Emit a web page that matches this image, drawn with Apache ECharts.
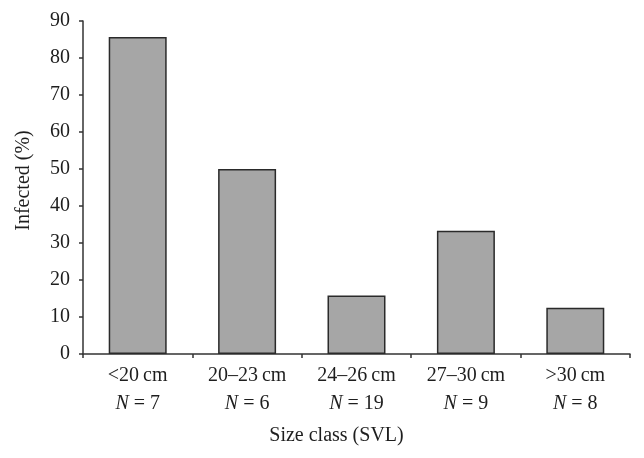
<!DOCTYPE html>
<html><head><meta charset="utf-8">
<script src="https://cdn.jsdelivr.net/npm/echarts@6/dist/echarts.min.js"></script>
<style>html,body{margin:0;padding:0;background:#fff}#c{width:644px;height:458px}</style>
</head><body><div id="c"></div>
<script>
const categories = ['<20\u2009cm', '20\u201323\u2009cm', '24\u201326\u2009cm', '27\u201330\u2009cm', '>30\u2009cm'];
const sampleSizes = [7, 6, 19, 9, 8];
const infected = [85.7, 50, 15.8, 33.3, 12.5];
const yTicks = { min: 0, max: 90, interval: 10 };

const FONT = '"Liberation Serif", "DejaVu Serif", serif';
const TXT = '#1e1e1e';
const chart = echarts.init(document.getElementById('c'));
chart.setOption({
  animation: false,
  backgroundColor: '#fff',
  grid: { left: 83, right: 14, top: 21, bottom: 104, containLabel: false },
  xAxis: {
    type: 'category',
    data: categories,
    name: 'Size class (SVL)',
    nameLocation: 'middle',
    nameGap: 72,
    nameTextStyle: { fontFamily: FONT, fontSize: 20, color: TXT, padding: [0, 40, 0, 0] },
    axisLine: { lineStyle: { color: '#333', width: 1.5 } },
    axisTick: { show: true, alignWithLabel: false, length: 4, lineStyle: { color: '#333', width: 1.5 } },
    axisLabel: {
      interval: 0,
      margin: 8,
      fontFamily: FONT, fontSize: 20, color: TXT, lineHeight: 28,
      formatter: function (v, i) { return v + '\n{i|N} = ' + sampleSizes[i]; },
      rich: { i: { fontFamily: FONT, fontSize: 20, fontStyle: 'italic', color: TXT, lineHeight: 28 } }
    }
  },
  yAxis: {
    type: 'value',
    min: yTicks.min, max: yTicks.max, interval: yTicks.interval,
    name: 'Infected (%)',
    nameLocation: 'middle',
    nameGap: 49,
    nameRotate: 90,
    nameTextStyle: { fontFamily: FONT, fontSize: 20, color: TXT, padding: [0, 0, 0, 14] },
    axisLine: { show: true, lineStyle: { color: '#333', width: 1.5 } },
    axisTick: { show: true, length: 4, lineStyle: { color: '#333', width: 1.5 } },
    axisLabel: { margin: 13, fontFamily: FONT, fontSize: 20, color: TXT },
    splitLine: { show: false }
  },
  series: [{
    type: 'bar',
    data: infected,
    barCategoryGap: '47%',
    itemStyle: { color: '#a6a6a6', borderColor: '#2a2a2a', borderWidth: 1.5 }
  }]
});
</script></body></html>
